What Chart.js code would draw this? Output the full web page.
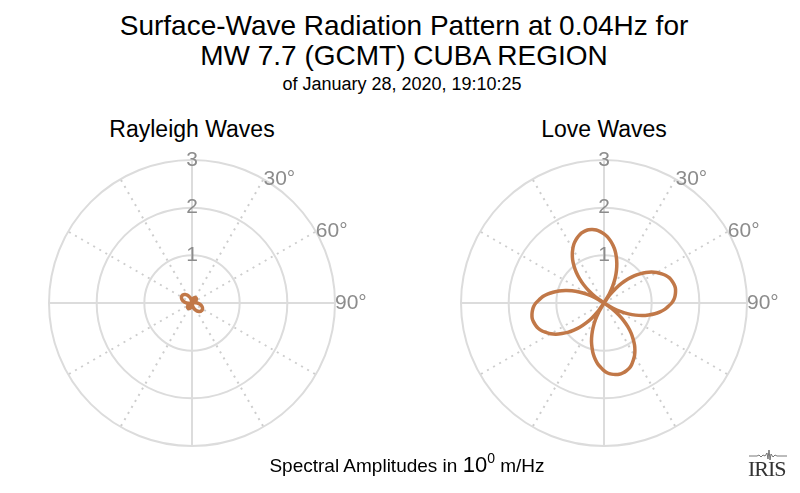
<!DOCTYPE html>
<html lang="en">
<head>
    <meta charset="UTF-8">
    <title>Surface-Wave Radiation Pattern</title>
    <script src="https://cdn.jsdelivr.net/npm/chart.js"></script>
    <style>
        body {
            margin: 0;
            width: 800px;
            height: 493px;
            overflow: hidden;
            background: #ffffff;
            font-family: 'Liberation Sans', Arial, sans-serif;
            color: #000;
            position: relative;
        }
        .txt {
            position: absolute;
            white-space: nowrap;
            text-align: center;
        }
        .title { font-size: 28px; line-height: 28px; left: 0; width: 808px; }
        .sub { font-size: 18px; line-height: 18px; left: 0; width: 804px; }
        .panel-title { font-size: 23px; line-height: 23px; width: 300px; }
        .foot { font-size: 19px; line-height: 19px; left: 0; width: 814px; }
        .foot .big { font-size: 22px; }
        .foot sup { font-size: 14px; vertical-align: 9px; line-height: 0; }
        canvas { position: absolute; }
        .logo {
            position: absolute;
            left: 748px;
            top: 458px;
            font-family: 'Liberation Serif', 'DejaVu Serif', serif;
            font-size: 22px;
            line-height: 22px;
            color: #333;
            letter-spacing: -1px;
        }
        .trace { position: absolute; left: 749px; top: 449px; }
    </style>
</head>
<body>
    <div class="txt title" style="top:12px">Surface-Wave Radiation Pattern at 0.04Hz for</div>
    <div class="txt title" style="top:42px">MW 7.7 (GCMT) CUBA REGION</div>
    <div class="txt sub" style="top:75px">of January 28, 2020, 19:10:25</div>
    <div class="txt panel-title" style="top:118px; left:42px">Rayleigh Waves</div>
    <div class="txt panel-title" style="top:118px; left:454px">Love Waves</div>

    <canvas id="rayleighChart" width="400" height="320" style="left:0; top:140px"></canvas>
    <canvas id="loveChart" width="400" height="320" style="left:400px; top:140px"></canvas>

    <div class="txt foot" style="top:455px">Spectral Amplitudes in <span class="big">10</span><sup>0</sup> m/Hz</div>

    <svg class="trace" width="38" height="12" viewBox="0 0 38 12">
        <polyline points="0,7 8,7 10,6 12,8 14,6 16,7 18,4 19,10 20,1 21,11 22,5 24,8 26,6 28,7 38,7"
                  fill="none" stroke="#555" stroke-width="0.8"/>
    </svg>
    <div class="logo">IRIS</div>

    <script>
        // azimuth of each sample, degrees clockwise from north (3 degree steps)
        const azimuths = [
            0, 3, 6, 9, 12, 15, 18, 21, 24, 27, 30, 33,
            36, 39, 42, 45, 48, 51, 54, 57, 60, 63, 66, 69,
            72, 75, 78, 81, 84, 87, 90, 93, 96, 99, 102, 105,
            108, 111, 114, 117, 120, 123, 126, 129, 132, 135, 138, 141,
            144, 147, 150, 153, 156, 159, 162, 165, 168, 171, 174, 177,
            180, 183, 186, 189, 192, 195, 198, 201, 204, 207, 210, 213,
            216, 219, 222, 225, 228, 231, 234, 237, 240, 243, 246, 249,
            252, 255, 258, 261, 264, 267, 270, 273, 276, 279, 282, 285,
            288, 291, 294, 297, 300, 303, 306, 309, 312, 315, 318, 321,
            324, 327, 330, 333, 336, 339, 342, 345, 348, 351, 354, 357
        ];

        // spectral amplitudes
        const rayleighAmp = [
            0.030, 0.049, 0.063, 0.075, 0.087, 0.098, 0.108, 0.118, 0.124, 0.129, 0.133, 0.135,
            0.136, 0.135, 0.133, 0.129, 0.124, 0.118, 0.108, 0.098, 0.087, 0.075, 0.063, 0.049,
            0.030, 0.000, 0.023, 0.045, 0.067, 0.089, 0.111, 0.131, 0.150, 0.168, 0.185, 0.201,
            0.215, 0.228, 0.239, 0.247, 0.254, 0.258, 0.260, 0.258, 0.254, 0.247, 0.239, 0.228,
            0.215, 0.201, 0.185, 0.168, 0.150, 0.131, 0.111, 0.089, 0.067, 0.045, 0.023, 0.000,
            0.031, 0.050, 0.065, 0.077, 0.089, 0.100, 0.110, 0.120, 0.126, 0.131, 0.135, 0.137,
            0.138, 0.137, 0.135, 0.131, 0.126, 0.120, 0.110, 0.100, 0.089, 0.077, 0.065, 0.050,
            0.031, 0.000, 0.023, 0.046, 0.068, 0.090, 0.112, 0.132, 0.151, 0.169, 0.186, 0.202,
            0.216, 0.229, 0.240, 0.248, 0.255, 0.259, 0.262, 0.259, 0.255, 0.248, 0.240, 0.229,
            0.216, 0.202, 0.186, 0.169, 0.151, 0.132, 0.112, 0.090, 0.068, 0.046, 0.023, 0.000
        ];

        const loveAmp = [
            1.45, 1.39, 1.31, 1.22, 1.12, 1.00, 0.87, 0.73, 0.58, 0.41, 0.23, 0.00,
            0.22, 0.40, 0.56, 0.71, 0.85, 0.97, 1.09, 1.19, 1.28, 1.35, 1.42, 1.47,
            1.50, 1.52, 1.53, 1.52, 1.50, 1.47, 1.42, 1.35, 1.28, 1.19, 1.09, 0.97,
            0.85, 0.71, 0.56, 0.40, 0.22, 0.00, 0.22, 0.40, 0.56, 0.71, 0.85, 0.97,
            1.09, 1.19, 1.28, 1.35, 1.42, 1.47, 1.50, 1.52, 1.53, 1.52, 1.50, 1.47,
            1.42, 1.35, 1.28, 1.19, 1.09, 0.97, 0.85, 0.71, 0.56, 0.40, 0.22, 0.00,
            0.23, 0.41, 0.57, 0.72, 0.85, 0.98, 1.09, 1.20, 1.29, 1.36, 1.43, 1.48,
            1.51, 1.53, 1.54, 1.53, 1.51, 1.48, 1.43, 1.36, 1.29, 1.20, 1.09, 0.98,
            0.85, 0.72, 0.57, 0.41, 0.23, 0.00, 0.23, 0.41, 0.58, 0.73, 0.87, 1.00,
            1.12, 1.22, 1.31, 1.39, 1.45, 1.50, 1.54, 1.56, 1.57, 1.56, 1.54, 1.50
        ];

        const radialTicks = [0, 1, 2, 3];
        const degreeTicks = [30, 60, 90];
        const degreeLabels = ['30°', '60°', '90°'];

        const lineColor = '#c17848';
        const gridColor = '#dcdcdc';
        const dotColor = '#cdcdcd';
        const labelGray = '#8c8c8c';
        const fontFamily = "'Liberation Sans', Arial, sans-serif";

        // writes the azimuth labels just outside the outer ring
        const degreeLabelPlugin = {
            id: 'degreeLabels',
            afterDraw(chart) {
                const scale = chart.scales.r;
                const ctx = chart.ctx;
                ctx.save();
                ctx.font = '21px ' + fontFamily;
                ctx.fillStyle = labelGray;
                ctx.textAlign = 'left';
                ctx.textBaseline = 'middle';
                degreeTicks.forEach((deg, i) => {
                    const idx = azimuths.indexOf(deg);
                    const p = scale.getPointPosition(idx, scale.drawingArea);
                    ctx.fillText(degreeLabels[i], p.x, p.y);
                });
                ctx.restore();
            }
        };

        // chart area is 311px square: 25px goes to the tick padding, leaving a 143px radius
        function makePolar(canvasId, values, padLeft) {
            const ctx = document.getElementById(canvasId).getContext('2d');
            return new Chart(ctx, {
                type: 'radar',
                data: {
                    labels: azimuths,
                    datasets: [{
                        data: values,
                        borderColor: lineColor,
                        borderWidth: 3.5,
                        pointRadius: 0,
                        pointHoverRadius: 0,
                        fill: false,
                        tension: 0.3
                    }]
                },
                options: {
                    responsive: false,
                    animation: false,
                    layout: {
                        padding: { left: padLeft, right: 400 - padLeft - 311, top: 8, bottom: 1 }
                    },
                    plugins: {
                        legend: { display: false },
                        tooltip: { enabled: false }
                    },
                    scales: {
                        r: {
                            min: radialTicks[0],
                            max: radialTicks[radialTicks.length - 1],
                            startAngle: 0,
                            ticks: {
                                stepSize: 1,
                                color: labelGray,
                                font: { size: 21, family: fontFamily },
                                showLabelBackdrop: false,
                                callback: (v) => radialTicks.includes(v) && v > 0 ? String(v) : ''
                            },
                            grid: {
                                circular: true,
                                color: gridColor,
                                lineWidth: 2
                            },
                            angleLines: {
                                display: true,
                                color: (c) => azimuths[c.index] % 90 === 0 ? gridColor : dotColor,
                                lineWidth: (c) => azimuths[c.index] % 30 === 0 ? 2 : 0,
                                borderDash: (c) => azimuths[c.index] % 90 === 0 ? [] : [2, 5]
                            },
                            pointLabels: { display: false }
                        }
                    }
                },
                plugins: [degreeLabelPlugin]
            });
        }

        makePolar('rayleighChart', rayleighAmp, 37);
        makePolar('loveChart', loveAmp, 49);
    </script>
</body>
</html>
